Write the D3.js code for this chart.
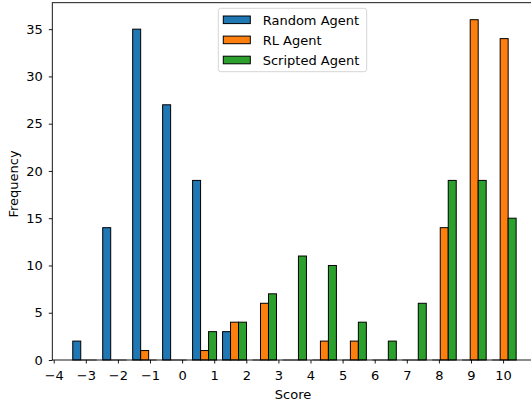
<!DOCTYPE html>
<html>
<head>
<meta charset="utf-8">
<script src="https://cdn.jsdelivr.net/npm/d3@7"></script>
<style>
  html, body { margin: 0; padding: 0; background: #fff; }
  svg { display: block; font-family: "DejaVu Sans", sans-serif; }
</style>
</head>
<body>
<svg id="chart" width="531" height="405"></svg>
<script>
// ---- data ----
const binEdges = [-3.5, -2.5667, -1.6333, -0.7, 0.2333, 1.1667, 2.1, 3.0333, 3.9667, 4.9, 5.8333, 6.7667, 7.7, 8.6333, 9.5667, 10.5];
const seriesNames = ["Random Agent", "RL Agent", "Scripted Agent"];
const randomAgent   = [2, 14, 35, 27, 19, 3, 0, 0, 0, 0, 0, 0, 0, 0, 0];
const rlAgent       = [0, 0, 1, 0, 1, 4, 6, 0, 2, 2, 0, 0, 14, 36, 34];
const scriptedAgent = [0, 0, 0, 0, 3, 4, 7, 11, 10, 4, 2, 6, 19, 19, 15];
const xTicks = [-4, -3, -2, -1, 0, 1, 2, 3, 4, 5, 6, 7, 8, 9, 10];
const yTicks = [0, 5, 10, 15, 20, 25, 30, 35];
const colors = ["#1f77b4", "#ff7f0e", "#2ca02c"];

const series = [randomAgent, rlAgent, scriptedAgent];

// ---- layout ----
const plotLeft = 52.3, plotTop = 2.7, plotBottom = 360;
const fs = 13;
const x = d3.scaleLinear().domain([-4.044, 11.044]).range([plotLeft, 536.6]);
const y = d3.scaleLinear().domain([0, 37.8]).range([plotBottom, plotTop]);

const svg = d3.select("#chart");

// bars
const nS = series.length;
series.forEach((vals, si) => {
  const g = svg.append("g");
  vals.forEach((v, bi) => {
    const lo = binEdges[bi], hi = binEdges[bi + 1];
    const w = hi - lo;
    const bw = 0.8 * w / nS;
    const x0 = lo + 0.1 * w + si * bw;
    const px0 = x(x0), px1 = x(x0 + bw);
    if (v > 0) {
      g.append("rect")
        .attr("x", px0).attr("width", px1 - px0)
        .attr("y", y(v)).attr("height", y(0) - y(v))
        .attr("fill", colors[si])
        .attr("stroke", "#000").attr("stroke-width", 1);
    } else {
      g.append("line")
        .attr("x1", px0).attr("x2", px1)
        .attr("y1", y(0)).attr("y2", y(0))
        .attr("stroke", "#555").attr("stroke-width", 1);
    }
  });
});

// frame (spines)
svg.append("rect")
  .attr("x", plotLeft).attr("y", plotTop)
  .attr("width", x.range()[1] - plotLeft).attr("height", plotBottom - plotTop)
  .attr("fill", "none").attr("stroke", "#000").attr("stroke-width", 0.9);

// x axis
const xAxis = svg.append("g")
  .attr("transform", `translate(0,${plotBottom})`)
  .call(d3.axisBottom(x).tickValues(xTicks).tickSize(3.5).tickPadding(7.3).tickFormat(d3.format("d")));
xAxis.select(".domain").remove();
xAxis.selectAll("text").attr("font-size", fs).attr("font-family", "DejaVu Sans").attr("fill", "#000");
xAxis.selectAll("line").attr("stroke", "#000").attr("stroke-width", 0.9);

// y axis
const yAxis = svg.append("g")
  .attr("transform", `translate(${plotLeft},0)`)
  .call(d3.axisLeft(y).tickValues(yTicks).tickSize(3.5).tickPadding(6).tickFormat(d3.format("d")));
yAxis.select(".domain").remove();
yAxis.selectAll("text").attr("font-size", fs).attr("font-family", "DejaVu Sans").attr("fill", "#000");
yAxis.selectAll("line").attr("stroke", "#000").attr("stroke-width", 0.9);

// axis labels
svg.append("text")
  .attr("x", 293).attr("y", 398.5)
  .attr("text-anchor", "middle").attr("font-size", fs).attr("fill", "#000")
  .text("Score");
svg.append("text")
  .attr("transform", "translate(18,184) rotate(-90)")
  .attr("text-anchor", "middle").attr("font-size", fs).attr("fill", "#000")
  .text("Frequency");

// legend
const lg = svg.append("g");
lg.append("rect")
  .attr("x", 218.3).attr("y", 8.3).attr("width", 148.4).attr("height", 63.4)
  .attr("rx", 2.5).attr("ry", 2.5)
  .attr("fill", "#fff").attr("fill-opacity", 0.8)
  .attr("stroke", "#d6d6d6").attr("stroke-width", 1);
seriesNames.forEach((name, i) => {
  const cy = 19.8 + i * 20.1;
  lg.append("rect")
    .attr("x", 223.3).attr("y", cy - 3.8).attr("width", 27).attr("height", 7.6)
    .attr("fill", colors[i]).attr("stroke", "#000").attr("stroke-width", 1);
  lg.append("text")
    .attr("x", 262.7).attr("y", cy + 4.7)
    .attr("font-size", fs).attr("fill", "#000")
    .text(name);
});
</script>
</body>
</html>
